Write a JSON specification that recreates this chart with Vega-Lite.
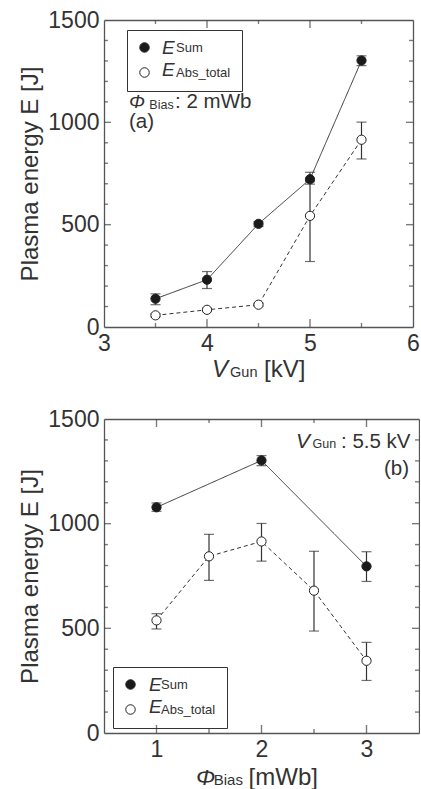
{
  "$schema": "https://vega.github.io/schema/vega-lite/v6.json",
  "padding": {"left": 18, "top": 9, "right": 0, "bottom": 0},
  "background": "white",
  "spacing": 26,
  "datasets": {
    "gun": [
      {"v": 3.5, "E": 138, "lo": 109, "hi": 162, "series": "Sum"},
      {"v": 4.0, "E": 231, "lo": 188, "hi": 271, "series": "Sum"},
      {"v": 4.5, "E": 504, "lo": 491, "hi": 515, "series": "Sum"},
      {"v": 5.0, "E": 722, "lo": 698, "hi": 756, "series": "Sum"},
      {"v": 5.5, "E": 1302, "lo": 1277, "hi": 1325, "series": "Sum"},
      {"v": 3.5, "E": 57, "lo": 50, "hi": 64, "series": "Abs_total"},
      {"v": 4.0, "E": 84, "lo": 77, "hi": 91, "series": "Abs_total"},
      {"v": 4.5, "E": 109, "lo": 102, "hi": 116, "series": "Abs_total"},
      {"v": 5.0, "E": 543, "lo": 320, "hi": 710, "series": "Abs_total"},
      {"v": 5.5, "E": 915, "lo": 821, "hi": 1001, "series": "Abs_total"}
    ],
    "bias": [
      {"v": 1.0, "E": 1078, "lo": 1059, "hi": 1099, "series": "Sum"},
      {"v": 2.0, "E": 1302, "lo": 1277, "hi": 1325, "series": "Sum"},
      {"v": 3.0, "E": 796, "lo": 724, "hi": 866, "series": "Sum"},
      {"v": 1.0, "E": 538, "lo": 497, "hi": 570, "series": "Abs_total"},
      {"v": 1.5, "E": 844, "lo": 729, "hi": 949, "series": "Abs_total"},
      {"v": 2.0, "E": 915, "lo": 821, "hi": 1001, "series": "Abs_total"},
      {"v": 2.5, "E": 680, "lo": 487, "hi": 868, "series": "Abs_total"},
      {"v": 3.0, "E": 345, "lo": 251, "hi": 433, "series": "Abs_total"}
    ],
    "yt": [{"t": 100}, {"t": 200}, {"t": 300}, {"t": 400}, {"t": 500}, {"t": 600}, {"t": 700}, {"t": 800}, {"t": 900}, {"t": 1000}, {"t": 1100}, {"t": 1200}, {"t": 1300}, {"t": 1400}],
    "xa": [{"t": 3.5}, {"t": 4}, {"t": 4.5}, {"t": 5}, {"t": 5.5}],
    "xb": [{"t": 1}, {"t": 1.5}, {"t": 2}, {"t": 2.5}, {"t": 3}],
    "one": [{}]
  },
  "config": {
    "font": "Liberation Sans",
    "view": {"stroke": null},
    "axis": {
      "grid": false,
      "ticks": false,
      "domainColor": "#555",
      "domainWidth": 1.3,
      "labelFont": "Liberation Sans",
      "labelFontSize": 23,
      "labelColor": "#333",
      "labelPadding": 5,
      "labelOverlap": false,
      "labelFlush": false,
      "labelBound": false,
      "titleFont": "Liberation Sans",
      "titleFontSize": 24,
      "titleFontWeight": "normal",
      "titleColor": "#333"
    },
    "tick": {"color": "#444", "thickness": 1.4},
    "text": {"font": "Liberation Sans", "color": "#333"}
  },
  "resolve": {"scale": {"fill": "independent"}, "legend": {"fill": "independent"}},
  "vconcat": [
    {
      "width": 309,
      "height": 307,
      "resolve": {"axis": {"x": "independent", "y": "independent"}},
      "layer": [
        {
          "data": {"name": "gun"},
          "mark": {"type": "rule", "color": "#333", "strokeWidth": 1.2},
          "encoding": {
            "x": {"field": "v", "type": "quantitative", "scale": {"domain": [3, 6], "nice": false, "zero": false},
              "axis": {"orient": "bottom", "title": null, "values": [3, 4, 5, 6], "format": "~g"}},
            "y": {"field": "lo", "type": "quantitative", "scale": {"domain": [0, 1500], "nice": false},
              "axis": {"orient": "left", "title": "Plasma energy E [J]", "titlePadding": 5, "format": "d",
                "values": [0, 500, 1000, 1500]}},
            "y2": {"field": "hi"}
          }
        },
        {
          "data": {"name": "gun"},
          "mark": {"type": "tick", "orient": "horizontal", "color": "#333", "thickness": 1.2, "size": 10},
          "encoding": {
            "x": {"field": "v", "type": "quantitative", "axis": null},
            "y": {"field": "lo", "type": "quantitative", "axis": null}
          }
        },
        {
          "data": {"name": "gun"},
          "mark": {"type": "tick", "orient": "horizontal", "color": "#333", "thickness": 1.2, "size": 10},
          "encoding": {
            "x": {"field": "v", "type": "quantitative", "axis": null},
            "y": {"field": "hi", "type": "quantitative", "axis": null}
          }
        },
        {
          "data": {"name": "gun"},
          "mark": {"type": "line", "color": "#333", "strokeWidth": 1},
          "encoding": {
            "x": {"field": "v", "type": "quantitative",
              "axis": {"orient": "top", "title": null, "labels": false}},
            "y": {"field": "E", "type": "quantitative",
              "axis": {"orient": "right", "title": null, "labels": false}},
            "strokeDash": {"field": "series", "type": "nominal", "scale": {"domain": ["Sum", "Abs_total"], "range": [[1, 0], [4, 3]]}, "legend": null}
          }
        },
        {
          "data": {"name": "yt"}, "transform": [{"filter": "datum.t % 500 === 0"}],
          "mark": {"type": "tick", "orient": "horizontal", "size": 7, "xOffset": 3.5},
          "encoding": {"x": {"datum": 3, "type": "quantitative", "axis": null}, "y": {"field": "t", "type": "quantitative", "axis": null}}
        },
        {
          "data": {"name": "yt"}, "transform": [{"filter": "datum.t % 500 !== 0"}],
          "mark": {"type": "tick", "orient": "horizontal", "size": 4, "xOffset": 2},
          "encoding": {"x": {"datum": 3, "type": "quantitative", "axis": null}, "y": {"field": "t", "type": "quantitative", "axis": null}}
        },
        {
          "data": {"name": "yt"}, "transform": [{"filter": "datum.t % 500 === 0"}],
          "mark": {"type": "tick", "orient": "horizontal", "size": 7, "xOffset": -3.5},
          "encoding": {"x": {"datum": 6, "type": "quantitative", "axis": null}, "y": {"field": "t", "type": "quantitative", "axis": null}}
        },
        {
          "data": {"name": "yt"}, "transform": [{"filter": "datum.t % 500 !== 0"}],
          "mark": {"type": "tick", "orient": "horizontal", "size": 4, "xOffset": -2},
          "encoding": {"x": {"datum": 6, "type": "quantitative", "axis": null}, "y": {"field": "t", "type": "quantitative", "axis": null}}
        },
        {
          "data": {"name": "xa"}, "transform": [{"filter": "datum.t % 1 === 0"}],
          "mark": {"type": "tick", "orient": "vertical", "size": 8, "yOffset": -4},
          "encoding": {"x": {"field": "t", "type": "quantitative", "axis": null}, "y": {"datum": 0, "type": "quantitative", "axis": null}}
        },
        {
          "data": {"name": "xa"}, "transform": [{"filter": "datum.t % 1 !== 0"}],
          "mark": {"type": "tick", "orient": "vertical", "size": 4, "yOffset": -2},
          "encoding": {"x": {"field": "t", "type": "quantitative", "axis": null}, "y": {"datum": 0, "type": "quantitative", "axis": null}}
        },
        {
          "data": {"name": "xa"}, "transform": [{"filter": "datum.t % 1 === 0"}],
          "mark": {"type": "tick", "orient": "vertical", "size": 8, "yOffset": 4},
          "encoding": {"x": {"field": "t", "type": "quantitative", "axis": null}, "y": {"datum": 1500, "type": "quantitative", "axis": null}}
        },
        {
          "data": {"name": "xa"}, "transform": [{"filter": "datum.t % 1 !== 0"}],
          "mark": {"type": "tick", "orient": "vertical", "size": 4, "yOffset": 2},
          "encoding": {"x": {"field": "t", "type": "quantitative", "axis": null}, "y": {"datum": 1500, "type": "quantitative", "axis": null}}
        },
        {
          "data": {"name": "gun"},
          "mark": {"type": "circle", "size": 85, "stroke": "#222", "strokeWidth": 1, "opacity": 1},
          "encoding": {
            "x": {"field": "v", "type": "quantitative", "axis": null},
            "y": {"field": "E", "type": "quantitative", "axis": null},
            "fill": {"field": "series", "type": "nominal",
              "scale": {"domain": ["Sum", "Abs_total"], "range": ["#1a1a1a", "#ffffff"]},
              "legend": {"orient": "none", "legendX": 23, "legendY": 10, "title": null, "padding": 11,
                "strokeColor": "#333", "fillColor": "transparent", "symbolType": "circle", "symbolSize": 90,
                "symbolStrokeColor": "#222", "symbolStrokeWidth": 1, "symbolOpacity": 1,
                "labelFont": "Liberation Sans", "labelFontSize": 13, "labelColor": "#333",
                "labelOffset": 25, "rowPadding": 10, "labelBaseline": "middle"}}
          }
        },
        {
          "data": {"name": "one"},
          "mark": {"type": "text", "text": "E", "fontStyle": "italic", "fontSize": 19, "align": "left", "baseline": "alphabetic"},
          "encoding": {"x": {"datum": 3.563, "type": "quantitative", "axis": null}, "y": {"datum": 1333, "type": "quantitative", "axis": null}}
        },
        {
          "data": {"name": "one"},
          "mark": {"type": "text", "text": "E", "fontStyle": "italic", "fontSize": 19, "align": "left", "baseline": "alphabetic"},
          "encoding": {"x": {"datum": 3.563, "type": "quantitative", "axis": null}, "y": {"datum": 1225, "type": "quantitative", "axis": null}}
        },
        {
          "data": {"name": "one"},
          "mark": {"type": "text", "text": "Φ", "fontStyle": "italic", "fontSize": 19, "align": "left", "baseline": "alphabetic"},
          "encoding": {"x": {"datum": 3.243, "type": "quantitative", "axis": null}, "y": {"datum": 1068, "type": "quantitative", "axis": null}}
        },
        {
          "data": {"name": "one"},
          "mark": {"type": "text", "text": "Bias", "fontSize": 12.5, "align": "left", "baseline": "alphabetic"},
          "encoding": {"x": {"datum": 3.44, "type": "quantitative", "axis": null}, "y": {"datum": 1066, "type": "quantitative", "axis": null}}
        },
        {
          "data": {"name": "one"},
          "mark": {"type": "text", "text": ": 2 mWb", "fontSize": 20.5, "align": "left", "baseline": "alphabetic"},
          "encoding": {"x": {"datum": 3.69, "type": "quantitative", "axis": null}, "y": {"datum": 1068, "type": "quantitative", "axis": null}}
        },
        {
          "data": {"name": "one"},
          "mark": {"type": "text", "text": "(a)", "fontSize": 20.5, "align": "left", "baseline": "alphabetic"},
          "encoding": {"x": {"datum": 3.243, "type": "quantitative", "axis": null}, "y": {"datum": 974, "type": "quantitative", "axis": null}}
        },
        {
          "data": {"name": "one"},
          "mark": {"type": "text", "text": "V", "fontStyle": "italic", "fontSize": 24, "align": "left", "baseline": "alphabetic"},
          "encoding": {"x": {"datum": 4.049, "type": "quantitative", "axis": null}, "y": {"datum": -244, "type": "quantitative", "axis": null}}
        },
        {
          "data": {"name": "one"},
          "mark": {"type": "text", "text": "Gun", "fontSize": 14.5, "align": "left", "baseline": "alphabetic"},
          "encoding": {"x": {"datum": 4.224, "type": "quantitative", "axis": null}, "y": {"datum": -244, "type": "quantitative", "axis": null}}
        },
        {
          "data": {"name": "one"},
          "mark": {"type": "text", "text": "[kV]", "fontSize": 24, "align": "left", "baseline": "alphabetic"},
          "encoding": {"x": {"datum": 4.553, "type": "quantitative", "axis": null}, "y": {"datum": -244, "type": "quantitative", "axis": null}}
        }
      ]
    },
    {
      "width": 315,
      "height": 314,
      "resolve": {"axis": {"x": "independent", "y": "independent"}},
      "layer": [
        {
          "data": {"name": "bias"},
          "mark": {"type": "rule", "color": "#333", "strokeWidth": 1.2},
          "encoding": {
            "x": {"field": "v", "type": "quantitative", "scale": {"domain": [0.5, 3.5], "nice": false, "zero": false},
              "axis": {"orient": "bottom", "title": null, "values": [1, 2, 3], "format": "~g"}},
            "y": {"field": "lo", "type": "quantitative", "scale": {"domain": [0, 1500], "nice": false},
              "axis": {"orient": "left", "title": "Plasma energy E [J]", "titlePadding": 5, "format": "d",
                "values": [0, 500, 1000, 1500]}},
            "y2": {"field": "hi"}
          }
        },
        {
          "data": {"name": "bias"},
          "mark": {"type": "tick", "orient": "horizontal", "color": "#333", "thickness": 1.2, "size": 10},
          "encoding": {
            "x": {"field": "v", "type": "quantitative", "axis": null},
            "y": {"field": "lo", "type": "quantitative", "axis": null}
          }
        },
        {
          "data": {"name": "bias"},
          "mark": {"type": "tick", "orient": "horizontal", "color": "#333", "thickness": 1.2, "size": 10},
          "encoding": {
            "x": {"field": "v", "type": "quantitative", "axis": null},
            "y": {"field": "hi", "type": "quantitative", "axis": null}
          }
        },
        {
          "data": {"name": "bias"},
          "mark": {"type": "line", "color": "#333", "strokeWidth": 1},
          "encoding": {
            "x": {"field": "v", "type": "quantitative",
              "axis": {"orient": "top", "title": null, "labels": false}},
            "y": {"field": "E", "type": "quantitative",
              "axis": {"orient": "right", "title": null, "labels": false}},
            "strokeDash": {"field": "series", "type": "nominal", "scale": {"domain": ["Sum", "Abs_total"], "range": [[1, 0], [4, 3]]}, "legend": null}
          }
        },
        {
          "data": {"name": "yt"}, "transform": [{"filter": "datum.t % 500 === 0"}],
          "mark": {"type": "tick", "orient": "horizontal", "size": 7, "xOffset": 3.5},
          "encoding": {"x": {"datum": 0.5, "type": "quantitative", "axis": null}, "y": {"field": "t", "type": "quantitative", "axis": null}}
        },
        {
          "data": {"name": "yt"}, "transform": [{"filter": "datum.t % 500 !== 0"}],
          "mark": {"type": "tick", "orient": "horizontal", "size": 4, "xOffset": 2},
          "encoding": {"x": {"datum": 0.5, "type": "quantitative", "axis": null}, "y": {"field": "t", "type": "quantitative", "axis": null}}
        },
        {
          "data": {"name": "yt"}, "transform": [{"filter": "datum.t % 500 === 0"}],
          "mark": {"type": "tick", "orient": "horizontal", "size": 7, "xOffset": -3.5},
          "encoding": {"x": {"datum": 3.5, "type": "quantitative", "axis": null}, "y": {"field": "t", "type": "quantitative", "axis": null}}
        },
        {
          "data": {"name": "yt"}, "transform": [{"filter": "datum.t % 500 !== 0"}],
          "mark": {"type": "tick", "orient": "horizontal", "size": 4, "xOffset": -2},
          "encoding": {"x": {"datum": 3.5, "type": "quantitative", "axis": null}, "y": {"field": "t", "type": "quantitative", "axis": null}}
        },
        {
          "data": {"name": "xb"}, "transform": [{"filter": "datum.t % 1 === 0"}],
          "mark": {"type": "tick", "orient": "vertical", "size": 8, "yOffset": -4},
          "encoding": {"x": {"field": "t", "type": "quantitative", "axis": null}, "y": {"datum": 0, "type": "quantitative", "axis": null}}
        },
        {
          "data": {"name": "xb"}, "transform": [{"filter": "datum.t % 1 !== 0"}],
          "mark": {"type": "tick", "orient": "vertical", "size": 4, "yOffset": -2},
          "encoding": {"x": {"field": "t", "type": "quantitative", "axis": null}, "y": {"datum": 0, "type": "quantitative", "axis": null}}
        },
        {
          "data": {"name": "xb"}, "transform": [{"filter": "datum.t % 1 === 0"}],
          "mark": {"type": "tick", "orient": "vertical", "size": 8, "yOffset": 4},
          "encoding": {"x": {"field": "t", "type": "quantitative", "axis": null}, "y": {"datum": 1500, "type": "quantitative", "axis": null}}
        },
        {
          "data": {"name": "xb"}, "transform": [{"filter": "datum.t % 1 !== 0"}],
          "mark": {"type": "tick", "orient": "vertical", "size": 4, "yOffset": 2},
          "encoding": {"x": {"field": "t", "type": "quantitative", "axis": null}, "y": {"datum": 1500, "type": "quantitative", "axis": null}}
        },
        {
          "data": {"name": "bias"},
          "mark": {"type": "circle", "size": 85, "stroke": "#222", "strokeWidth": 1, "opacity": 1},
          "encoding": {
            "x": {"field": "v", "type": "quantitative", "axis": null},
            "y": {"field": "E", "type": "quantitative", "axis": null},
            "fill": {"field": "series", "type": "nominal",
              "scale": {"domain": ["Sum", "Abs_total"], "range": ["#1a1a1a", "#ffffff"]},
              "legend": {"orient": "none", "legendX": 9, "legendY": 248, "title": null, "padding": 11,
                "strokeColor": "#333", "fillColor": "transparent", "symbolType": "circle", "symbolSize": 90,
                "symbolStrokeColor": "#222", "symbolStrokeWidth": 1, "symbolOpacity": 1,
                "labelFont": "Liberation Sans", "labelFontSize": 13, "labelColor": "#333",
                "labelOffset": 24, "rowPadding": 10, "labelBaseline": "middle"}}
          }
        },
        {
          "data": {"name": "one"},
          "mark": {"type": "text", "text": "E", "fontStyle": "italic", "fontSize": 19, "align": "left", "baseline": "alphabetic"},
          "encoding": {"x": {"datum": 0.929, "type": "quantitative", "axis": null}, "y": {"datum": 200, "type": "quantitative", "axis": null}}
        },
        {
          "data": {"name": "one"},
          "mark": {"type": "text", "text": "E", "fontStyle": "italic", "fontSize": 19, "align": "left", "baseline": "alphabetic"},
          "encoding": {"x": {"datum": 0.929, "type": "quantitative", "axis": null}, "y": {"datum": 94, "type": "quantitative", "axis": null}}
        },
        {
          "data": {"name": "one"},
          "mark": {"type": "text", "text": "V", "fontStyle": "italic", "fontSize": 21, "align": "left", "baseline": "alphabetic"},
          "encoding": {"x": {"datum": 2.329, "type": "quantitative", "axis": null}, "y": {"datum": 1363, "type": "quantitative", "axis": null}}
        },
        {
          "data": {"name": "one"},
          "mark": {"type": "text", "text": "Gun", "fontSize": 12.5, "align": "left", "baseline": "alphabetic"},
          "encoding": {"x": {"datum": 2.486, "type": "quantitative", "axis": null}, "y": {"datum": 1361, "type": "quantitative", "axis": null}}
        },
        {
          "data": {"name": "one"},
          "mark": {"type": "text", "text": ": 5.5 kV", "fontSize": 20.5, "align": "left", "baseline": "alphabetic"},
          "encoding": {"x": {"datum": 2.757, "type": "quantitative", "axis": null}, "y": {"datum": 1363, "type": "quantitative", "axis": null}}
        },
        {
          "data": {"name": "one"},
          "mark": {"type": "text", "text": "(b)", "fontSize": 20.5, "align": "right", "baseline": "alphabetic"},
          "encoding": {"x": {"datum": 3.405, "type": "quantitative", "axis": null}, "y": {"datum": 1232, "type": "quantitative", "axis": null}}
        },
        {
          "data": {"name": "one"},
          "mark": {"type": "text", "text": "Φ", "fontStyle": "italic", "fontSize": 23, "align": "left", "baseline": "alphabetic"},
          "encoding": {"x": {"datum": 1.376, "type": "quantitative", "axis": null}, "y": {"datum": -248, "type": "quantitative", "axis": null}}
        },
        {
          "data": {"name": "one"},
          "mark": {"type": "text", "text": "Bias", "fontSize": 15, "align": "left", "baseline": "alphabetic"},
          "encoding": {"x": {"datum": 1.545, "type": "quantitative", "axis": null}, "y": {"datum": -248, "type": "quantitative", "axis": null}}
        },
        {
          "data": {"name": "one"},
          "mark": {"type": "text", "text": "[mWb]", "fontSize": 24, "align": "left", "baseline": "alphabetic"},
          "encoding": {"x": {"datum": 1.877, "type": "quantitative", "axis": null}, "y": {"datum": -248, "type": "quantitative", "axis": null}}
        }
      ]
    }
  ]
}
